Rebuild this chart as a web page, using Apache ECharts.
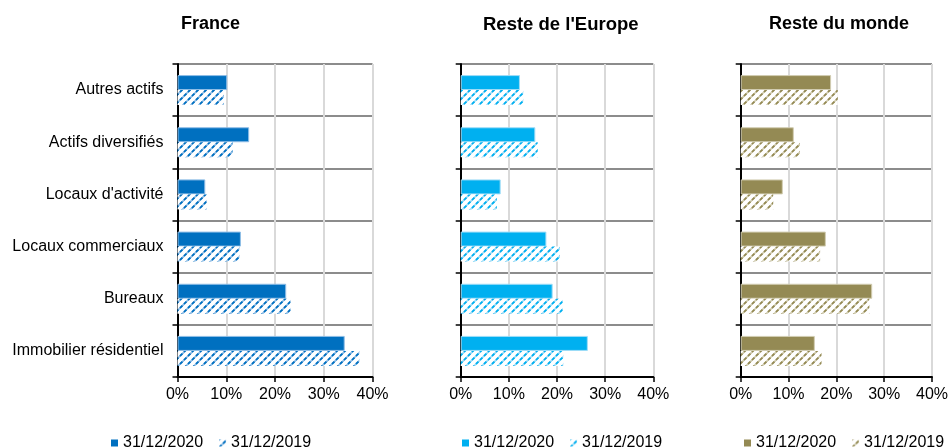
<!DOCTYPE html>
<html>
<head>
<meta charset="utf-8">
<script src="https://cdn.jsdelivr.net/npm/echarts@6/dist/echarts.min.js"></script>
<style>html,body{margin:0;padding:0;background:#fff}#c{width:951px;height:448px}</style>
</head>
<body>
<div id="c"></div>
<script>
// Categories listed top to bottom
const categories = ['Autres actifs', 'Actifs diversifiés', "Locaux d'activité", 'Locaux commerciaux', 'Bureaux', 'Immobilier résidentiel'];
const panelTitles = ['France', "Reste de l'Europe", 'Reste du monde'];
const seriesNames = ['31/12/2020', '31/12/2019'];
const xTicks = [0, 10, 20, 30, 40];

const france2020 = [10.2, 14.7, 5.7, 13.0, 22.3, 34.3];
const france2019 = [9.5, 11.3, 6.0, 12.7, 23.2, 37.3];
const europe2020 = [12.3, 15.5, 8.3, 17.8, 19.1, 26.4];
const europe2019 = [13.0, 16.0, 7.5, 20.6, 21.2, 21.3];
const monde2020 = [18.9, 11.1, 8.8, 17.8, 27.5, 15.5];
const monde2019 = [20.3, 12.4, 6.8, 16.6, 26.9, 16.9];

const colors = ['#0070C0', '#00B0F0', '#948A54'];
const lightColors = ['#8fbde6', '#9fdcf7', '#d2cdb2'];

function makePattern(color, light) {
  const c = document.createElement('canvas');
  c.width = 8; c.height = 8;
  const ctx = c.getContext('2d');
  ctx.fillStyle = '#ffffff';
  ctx.fillRect(0, 0, 8, 8);
  const lines = [[-4, 12, 12, -4], [-8, 8, 8, -8], [0, 16, 16, 0]];
  ctx.lineWidth = 1.8;
  ctx.strokeStyle = light;
  lines.forEach(l => { ctx.beginPath(); ctx.moveTo(l[0], l[1]); ctx.lineTo(l[2], l[3]); ctx.stroke(); });
  ctx.strokeStyle = color;
  ctx.setLineDash([3.5, 2.15]);
  lines.forEach(l => { ctx.beginPath(); ctx.moveTo(l[0], l[1]); ctx.lineTo(l[2], l[3]); ctx.stroke(); });
  return { image: c, repeat: 'repeat' };
}

const data2020 = [france2020, europe2020, monde2020];
const data2019 = [france2019, europe2019, monde2019];
const gridLefts = [177.5, 460.7, 740.7];
const gridWidths = [195, 192.6, 192.6];
const titleLefts = [176, 478, 764];
const titleSizes = [18, 18.5, 18];
const legendLefts = [106, 457, 739];
const font = 'Liberation Sans, Arial, sans-serif';

const option = {
  backgroundColor: '#fff',
  animation: false,
  title: [], legend: [], grid: [], xAxis: [], yAxis: [], series: []
};

for (let i = 0; i < 3; i++) {
  const n1 = seriesNames[0] + ' '.repeat(i);
  const n2 = seriesNames[1] + ' '.repeat(i);
  option.title.push({
    text: panelTitles[i], left: titleLefts[i], top: 10,
    textStyle: { fontFamily: font, fontSize: titleSizes[i], fontWeight: 'bold', color: '#000' }
  });
  option.legend.push({
    data: [n1, n2], left: legendLefts[i], top: 430, itemWidth: 7, itemHeight: 7, itemGap: 16,
    icon: 'rect', formatter: s => s.trim(),
    itemStyle: { borderWidth: 0 },
    textStyle: { fontFamily: font, fontSize: 16, color: '#000' }
  });
  option.grid.push({ left: gridLefts[i], width: gridWidths[i], top: 64, height: 313 });
  option.xAxis.push({
    type: 'value', gridIndex: i, min: 0, max: 40, interval: 10,
    axisLine: { show: true, lineStyle: { color: '#000', width: 2 } },
    axisTick: { show: true, length: 5, lineStyle: { color: '#000', width: 1.5 } },
    axisLabel: { formatter: v => v + '%', fontFamily: font, fontSize: 16, color: '#000', margin: 10 },
    splitLine: { show: true, lineStyle: { color: '#d9d9d9', width: 2 } }
  });
  option.yAxis.push({
    type: 'category', gridIndex: i, data: categories, inverse: true,
    axisLine: { show: true, lineStyle: { color: '#000', width: 2 } },
    axisTick: { show: true, length: 5, interval: 0, lineStyle: { color: '#000', width: 1.5 } },
    axisLabel: { show: i === 0, fontFamily: font, fontSize: 16, color: '#000', margin: 14 },
    splitLine: { show: true, interval: 0, lineStyle: { color: '#8c8c8c', width: 2 } }
  });
  option.series.push({
    name: n1, type: 'bar', xAxisIndex: i, yAxisIndex: i, data: data2020[i],
    barWidth: 15, barGap: '0%',
    itemStyle: { color: colors[i], borderColor: lightColors[i], borderWidth: 1 }
  });
  option.series.push({
    name: n2, type: 'bar', xAxisIndex: i, yAxisIndex: i, data: data2019[i],
    barWidth: 15, barGap: '0%',
    itemStyle: { color: makePattern(colors[i], lightColors[i]) }
  });
}

const chart = echarts.init(document.getElementById('c'), null, { renderer: 'canvas' });
chart.setOption(option);
</script>
</body>
</html>
